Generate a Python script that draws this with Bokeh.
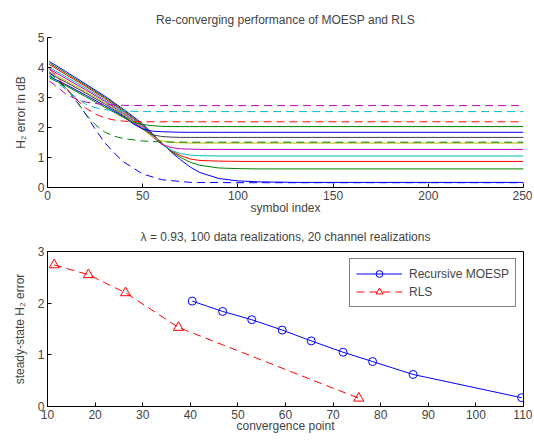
from bokeh.plotting import figure
from bokeh.layouts import column
from bokeh.models import Range1d, FixedTicker, Legend, LegendItem
from bokeh.embed import file_html
from bokeh.resources import INLINE

FONT = "Liberation Sans"
COLORS = {"b": "#0000ff", "g": "#008000", "r": "#ff0000", "c": "#00bfbf",
          "m": "#bf00bf", "y": "#bfbf00", "k": "#404040"}

# ---------------- top panel data ----------------
moesp_x = [1, 10, 20, 30, 40, 45, 50, 55, 60, 65, 70, 75, 80, 90, 100, 110, 130, 250]
moesp_b1 = [4.2, 3.85, 3.45, 3.05, 2.6, 2.37, 2.12, 1.8, 1.48, 1.18, 0.92, 0.68, 0.5, 0.3, 0.22, 0.19, 0.17, 0.17]
moesp_g1 = [4.15, 3.8, 3.41, 3.01, 2.57, 2.33, 2.08, 1.78, 1.47, 1.2, 1.0, 0.84, 0.74, 0.65, 0.63, 0.62, 0.62, 0.62]
moesp_r1 = [4.1, 3.75, 3.37, 2.97, 2.53, 2.3, 2.05, 1.76, 1.46, 1.22, 1.06, 0.95, 0.9, 0.88, 0.87, 0.87, 0.87, 0.87]
moesp_c1 = [4.0, 3.68, 3.31, 2.92, 2.49, 2.26, 2.02, 1.74, 1.45, 1.24, 1.13, 1.08, 1.06, 1.05, 1.05, 1.05, 1.05, 1.05]
moesp_m1 = [3.95, 3.62, 3.26, 2.88, 2.45, 2.22, 1.98, 1.7, 1.44, 1.33, 1.29, 1.28, 1.27, 1.27, 1.27, 1.27, 1.27, 1.27]
moesp_y1 = [3.85, 3.55, 3.2, 2.83, 2.42, 2.19, 1.95, 1.7, 1.55, 1.5, 1.49, 1.48, 1.48, 1.48, 1.48, 1.48, 1.48, 1.48]
moesp_k1 = [3.8, 3.5, 3.15, 2.79, 2.39, 2.16, 1.95, 1.76, 1.7, 1.68, 1.67, 1.67, 1.67, 1.67, 1.67, 1.67, 1.67, 1.67]
moesp_b2 = [3.7, 3.42, 3.08, 2.73, 2.36, 2.12, 1.95, 1.88, 1.86, 1.85, 1.84, 1.84, 1.84, 1.84, 1.84, 1.84, 1.84, 1.84]
moesp_g2 = [3.65, 3.38, 3.03, 2.68, 2.33, 2.17, 2.1, 2.06, 2.04, 2.03, 2.03, 2.03, 2.03, 2.03, 2.03, 2.03, 2.03, 2.03]

rls_x = [1, 5, 10, 15, 20, 25, 30, 35, 40, 50, 60, 75, 100, 250]
rls_b = [3.85, 3.6, 3.3, 2.9, 2.45, 1.95, 1.5, 1.15, 0.85, 0.45, 0.26, 0.17, 0.16, 0.16]
rls_g = [3.75, 3.55, 3.3, 2.9, 2.45, 2.1, 1.85, 1.71, 1.63, 1.55, 1.52, 1.51, 1.51, 1.51]
rls_r = [3.95, 3.7, 3.3, 2.95, 2.65, 2.45, 2.32, 2.25, 2.21, 2.19, 2.19, 2.19, 2.19, 2.19]
rls_c = [3.7, 3.5, 3.25, 3.0, 2.78, 2.66, 2.6, 2.57, 2.55, 2.53, 2.53, 2.53, 2.53, 2.53]
rls_m = [3.55, 3.35, 3.1, 2.95, 2.85, 2.8, 2.77, 2.75, 2.74, 2.73, 2.73, 2.73, 2.73, 2.73]

moesp_curves = [("b", moesp_b1), ("g", moesp_g1), ("r", moesp_r1), ("c", moesp_c1),
                ("m", moesp_m1), ("y", moesp_y1), ("k", moesp_k1), ("b", moesp_b2), ("g", moesp_g2)]
rls_curves = [("b", rls_b), ("g", rls_g), ("r", rls_r), ("c", rls_c), ("m", rls_m)]

top_xticks = [0, 50, 100, 150, 200, 250]
top_yticks = [0, 1, 2, 3, 4, 5]

# ---------------- bottom panel data ----------------
moesp_conv = [40.4, 46.8, 52.9, 59.3, 65.4, 72.1, 78.3, 86.8, 109.6]
moesp_err = [2.04, 1.84, 1.68, 1.48, 1.27, 1.05, 0.87, 0.62, 0.17]
rls_conv = [11.4, 18.6, 26.4, 37.5, 75.4]
rls_err = [2.74, 2.55, 2.2, 1.53, 0.16]

bot_xticks = [10, 20, 30, 40, 50, 60, 70, 80, 90, 100, 110]
bot_yticks = [0, 1, 2, 3]


def style_axis(ax, ticks, label_standoff):
    ax.ticker = FixedTicker(ticks=ticks)
    ax.major_tick_in = 4
    ax.major_tick_out = 0
    ax.minor_tick_in = 0
    ax.minor_tick_out = 0
    ax.axis_line_color = "black"
    ax.major_tick_line_color = "black"
    ax.axis_label_text_font = FONT
    ax.axis_label_text_font_size = "12px"
    ax.axis_label_text_font_style = "normal"
    ax.axis_label_standoff = label_standoff
    ax.major_label_text_font = FONT
    ax.major_label_text_font_size = "12px"
    ax.major_label_standoff = 3


def base_fig(title, xr, yr, height, top_border, bottom_border, title_standoff):
    p = figure(width=532, height=height, x_range=Range1d(*xr), y_range=Range1d(*yr),
               output_backend="svg", toolbar_location=None,
               min_border_left=47, min_border_right=9,
               min_border_top=top_border, min_border_bottom=bottom_border)
    p.title.text = title
    p.title.text_font = FONT
    p.title.text_font_size = "12px"
    p.title.text_font_style = "normal"
    p.title.align = "center"
    p.title.standoff = title_standoff
    p.xgrid.visible = False
    p.ygrid.visible = False
    p.background_fill_color = "white"
    p.border_fill_color = "white"
    return p


# ---------------- top figure ----------------
p1 = base_fig("Re-converging performance of MOESP and RLS", (0, 250), (0, 5), 220, 30, 33, 21)
p1.outline_line_color = None
style_axis(p1.xaxis[0], top_xticks, -2)
style_axis(p1.yaxis[0], top_yticks, 7)
p1.xaxis[0].axis_label = "symbol index"
p1.yaxis[0].axis_label = "H\u2082 error in dB"

for c, ys in moesp_curves:
    p1.line(moesp_x, ys, line_color=COLORS[c], line_width=1)
for c, ys in rls_curves:
    p1.line(rls_x, ys, line_color=COLORS[c], line_width=1, line_dash="8 5")

# ---------------- bottom figure ----------------
p2 = base_fig("\u03bb = 0.93, 100 data realizations, 20 channel realizations",
              (10, 110), (0, 3), 218, 30, 32, 15)
p2.outline_line_color = "black"
style_axis(p2.xaxis[0], bot_xticks, -3)
style_axis(p2.yaxis[0], bot_yticks, 8)
p2.xaxis[0].axis_label = "convergence point"
p2.yaxis[0].axis_label = "steady-state H\u2082 error"

l1 = p2.line(moesp_conv, moesp_err, line_color=COLORS["b"], line_width=1)
s1 = p2.scatter(moesp_conv, moesp_err, marker="circle", size=8, fill_color=None,
                line_color=COLORS["b"], line_width=1)
l2 = p2.line(rls_conv, rls_err, line_color=COLORS["r"], line_width=1, line_dash="8 5")
s2 = p2.scatter(rls_conv, rls_err, marker="triangle", size=10, fill_color=None,
                line_color=COLORS["r"], line_width=1)

legend = Legend(items=[LegendItem(label="Recursive MOESP", renderers=[l1, s1]),
                       LegendItem(label="RLS", renderers=[l2, s2])],
                location="top_right")
legend.label_text_font = FONT
legend.label_text_font_size = "12px"
legend.border_line_color = "black"
legend.border_line_width = 1
legend.glyph_width = 46
legend.glyph_height = 17
legend.label_height = 17
legend.label_standoff = 7
legend.spacing = 1
legend.padding = 6
legend.margin = 7
p2.add_layout(legend, "center")

layout = column(p1, p2, spacing=0)
open("out.html", "w").write(file_html(layout, INLINE))
